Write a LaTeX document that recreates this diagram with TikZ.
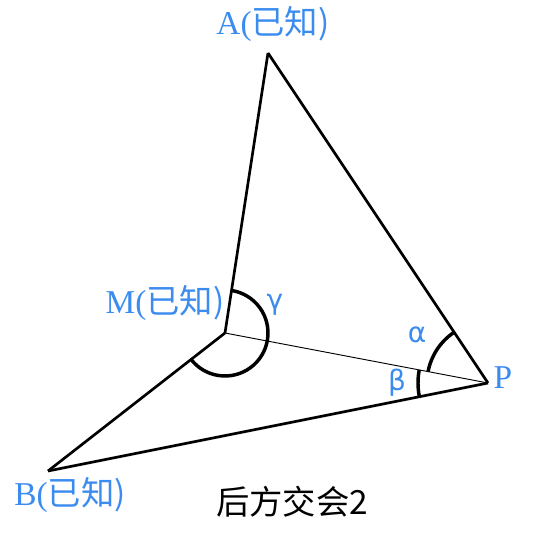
\documentclass[tikz,border=0pt]{standalone}
\usepackage{fontspec}
\setmainfont{Liberation Serif}
\newfontfamily\cjk{Noto Sans CJK SC}
\newfontfamily\greek{DejaVu Sans}
\definecolor{labelblue}{HTML}{3C8CF0}
\usetikzlibrary{calc}
\newcommand{\angmark}[4]
{
	\draw[angle line] (#1) ++(#2:#4) arc[start angle=#2, end angle=#3, radius=#4]
}

\begin{document}
\begin{tikzpicture}[x=0.75pt, y=0.75pt,
	side/.style={line width=2pt, line join=round},
	sight/.style={line width=0.7pt},
	angle line/.style={line width=2.6pt},
	known/.style={text=labelblue, font=\fontsize{25}{27}\selectfont, inner sep=0pt},
	greeklabel/.style={text=labelblue, font=\greek\fontsize{21}{23}\selectfont, inner sep=0pt}]

	\useasboundingbox (0,0) rectangle (551,539);

	\coordinate (A) at (268, 486);
	\coordinate (M) at (225, 206);
	\coordinate (P) at (488, 156);
	\coordinate (B) at (48, 68);

	\draw[side] (A) -- (P);
	\draw[side] (A) -- (M);
	\draw[side] (M) -- (B);
	\draw[side] (B) -- (P);
	\draw[sight] (M) -- (P);

	\angmark{M}{81.3}{-141.9}{43};
	\angmark{P}{123.7}{169.2}{61};
	\angmark{P}{169.2}{191.4}{70};

	\node[known] at (273, 515) (Alabel){A(\cjk 已知)};
	\node[known] at (165, 236) (Mlabel){M(\cjk 已知)};
	\node[known] at (70, 44) (Blabel){B(\cjk 已知)};
	\node[known] at (503, 161) (Plabel){P};
	\node[greeklabel] at (275, 234) (gamma){γ};
	\node[greeklabel] at (417, 204) (alpha){α};
	\node[greeklabel] at (397, 156) (beta){β};
	\node[font=\cjk\fontsize{25}{27}\selectfont, inner sep=0pt] at (292, 37) (title){后方交会2};
\end{tikzpicture}
\end{document}
